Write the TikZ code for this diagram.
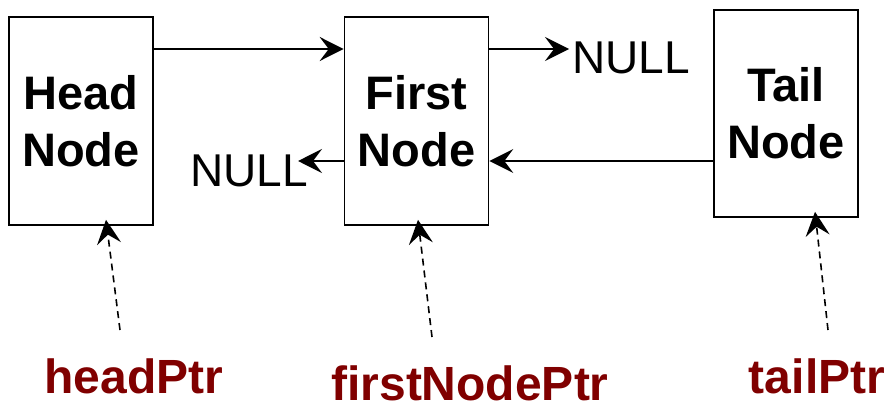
\documentclass[tikz,border=0pt]{standalone}
\usepackage{fontspec}
\setmainfont{Liberation Sans}
\usetikzlibrary{arrows.meta,calc}
\definecolor{ptrred}{HTML}{800000}
\begin{document}
\begin{tikzpicture}[x=1pt,y=-1pt,
  box/.style={draw, line width=1.6pt, minimum width=144pt, minimum height=208pt, inner sep=0pt, align=center, font=\fontsize{47}{57}\selectfont\bfseries},
  arr/.style={line width=1.6pt, -{Stealth[length=24pt,width=24pt,inset=9pt]}},
  ptrarr/.style={arr, dash pattern=on 7pt off 5pt},
  nulltxt/.style={inner sep=0pt, font=\fontsize{46}{55}\selectfont},
  ptrlbl/.style={inner sep=0pt, text=ptrred, font=\fontsize{48}{57}\selectfont\bfseries}]
\useasboundingbox (0,0) rectangle (888,404);
% boxes
\node[box] (head) at (81,121) {Head\\Node};
\node[box] (first) at (416.5,121) {First\\Node};
\node[box, minimum height=207pt] (tail) at (786,113.5) {Tail\\Node};
% NULL texts
\node[nulltxt, anchor=base west] (nullR) at (572,74) {NULL};
\node[nulltxt, anchor=base west] (nullL) at (190,186) {NULL};
% rows
\coordinate (rowA) at (0,49);
\coordinate (rowB) at (0,161);
\draw[arr] (head.east |- rowA) -- (first.west |- rowA);
\draw[arr] (first.east |- rowA) -- ($(nullR.west |- rowA)+(-3,0)$);
\draw[arr] (tail.west |- rowB) -- (first.east |- rowB);
\draw[arr] (first.west |- rowB) -- ($(nullL.east |- rowB)+(-10,0)$);
% pointer labels
\node[ptrlbl, anchor=base] (headPtr) at (134,393) {headPtr};
\node[ptrlbl, anchor=base] (firstNodePtr) at (470,400) {firstNodePtr};
\node[ptrlbl, anchor=base] (tailPtr) at (817,393) {tailPtr};
\coordinate (hpS) at (120,330);
\coordinate (fpS) at (432,337);
\coordinate (tpS) at (828,330);
\draw[ptrarr] (hpS) -- ($(head.south)+(25,-6)$);
\draw[ptrarr] (fpS) -- ($(first.south)+(1.5,-6)$);
\draw[ptrarr] (tpS) -- ($(tail.south)+(29,-6)$);
\end{tikzpicture}
\end{document}
